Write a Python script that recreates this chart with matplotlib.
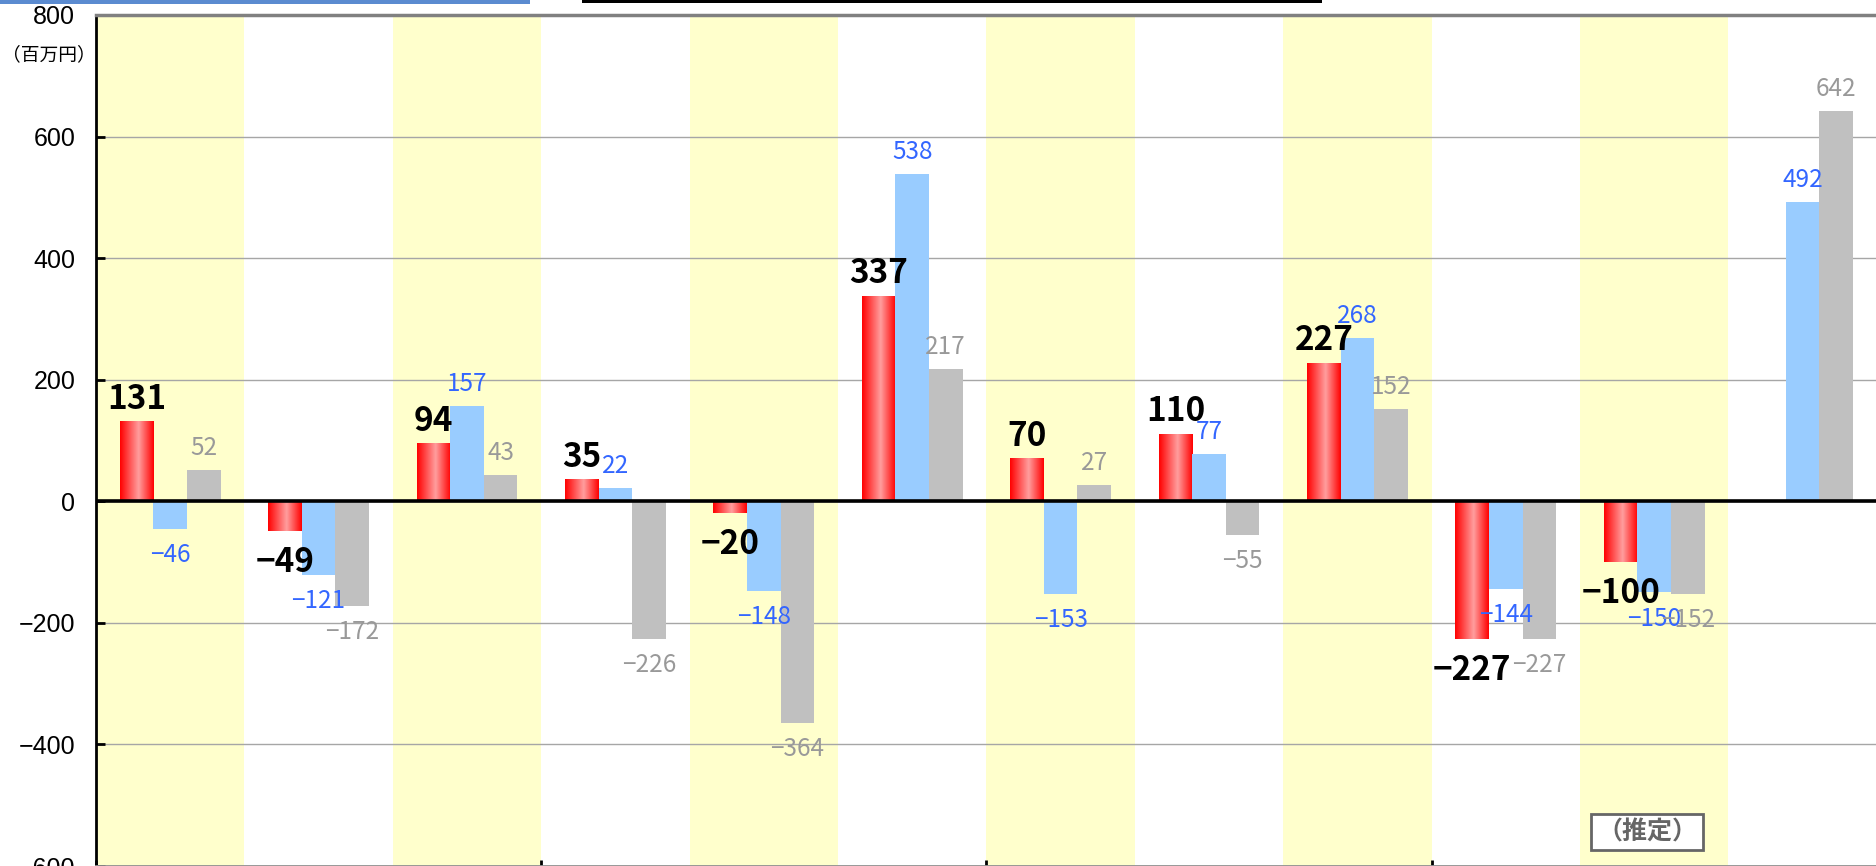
import numpy as np
import matplotlib.pyplot as plt
from matplotlib.colors import LinearSegmentedColormap
from matplotlib.patches import Rectangle

plt.rcParams['font.family'] = ['Noto Sans CJK JP', 'DejaVu Sans']

# values (百万円)
red_vals = [131, -49, 94, 35, -20, 337, 70, 110, 227, -227, -100, np.nan]
blue_vals = [-46, -121, 157, 22, -148, 538, -153, 77, 268, -144, -150, 492]
gray_vals = [52, -172, 43, -226, -364, 217, 27, -55, 152, -227, -152, 642]
y_ticks = [-600, -400, -200, 0, 200, 400, 600, 800]
shaded_groups = [0, 2, 4, 6, 8, 10]
year_ticks = [0, 3, 6, 9]
unit_label = "（百万円）"
note_label = "（推定）"

W, H = 1876, 866
GW = 148.4  # one group in pixels
fig = plt.figure(figsize=(W / 100, H / 100), dpi=100)
ax = fig.add_axes([96 / W, 0.0, 1 - 96 / W, 851 / H])

n = len(blue_vals)
xc = np.arange(n) + 0.5
bw = 0.226

# yellow bands behind every other group
for g in shaded_groups:
    ax.axvspan(g, g + 1, color='#FFFFCC', lw=0, zorder=0)

red_cmap = LinearSegmentedColormap.from_list(
    'redbar', [(0, '#FF0000'), (0.55, '#FF9E9E'), (1, '#FF0000')])
grad = np.linspace(0, 1, 256).reshape(1, -1)


def fmt(v):
    return f"{int(v)}".replace('-', '\u2212')


def put_label(x, v, color, size, weight, up, down):
    off = up if v >= 0 else -down
    ax.annotate(fmt(v), (x, v), xytext=(0, off), textcoords='offset points',
                ha='center', va='baseline', color=color, fontsize=size,
                fontweight=weight, zorder=6)


for i in range(n):
    rv = red_vals[i]
    if not np.isnan(rv):
        x0 = xc[i] - 1.5 * bw
        ax.imshow(grad, extent=[x0, x0 + bw, 0, rv], cmap=red_cmap,
                  aspect='auto', interpolation='bilinear', zorder=2)
ax.bar(xc, blue_vals, bw, color='#99CCFF', zorder=2)
ax.bar(xc + bw, gray_vals, bw, color='#C0C0C0', zorder=2)

for i in range(n):
    if not np.isnan(red_vals[i]):
        put_label(xc[i] - bw, red_vals[i], 'black', 24, 'bold', 9.4, 29.2)
    put_label(xc[i], blue_vals[i], '#3366FF', 17.5, 'normal', 10.8, 23.8)
    put_label(xc[i] + bw, gray_vals[i], '#999999', 17.5, 'normal', 10.8, 23.8)

ax.axhline(0, color='black', lw=2.6, zorder=4)

ax.set_xlim(0, (W - 96) / GW)
ax.set_ylim(-600, 800)
ax.set_yticks(y_ticks)
ax.set_yticklabels([fmt(t) for t in y_ticks], fontsize=18,
                   family=['Liberation Sans', 'DejaVu Sans'])
ax.set_xticks(year_ticks)
ax.set_xticklabels([])
ax.yaxis.grid(True, color='#A6A6A6', lw=1, zorder=1)
ax.set_axisbelow(True)
ax.tick_params(axis='y', direction='in', length=6.5, width=2, pad=15, color='black')
ax.tick_params(axis='x', direction='in', length=4, width=2, color='black')

ax.spines['right'].set_visible(False)
ax.spines['left'].set_color('black')
ax.spines['left'].set_linewidth(2)
ax.spines['top'].set_color('#808080')
ax.spines['top'].set_linewidth(2.5)
ax.spines['bottom'].set_color('#909090')
ax.spines['bottom'].set_linewidth(2)

fig.text(49 / W, 1 - 55 / H, unit_label, ha='center', va='center', fontsize=13.5)

fig.text(1647 / W, 1 - 832 / H, note_label, ha='center', va='center',
         fontsize=18, fontweight='bold', color='#666666',
         bbox=dict(boxstyle='square,pad=0.25', fc='white', ec='#666666', lw=2))

# stray page elements at the top edge
fig.add_artist(Rectangle((0, 1 - 4 / H), 530 / W, 4 / H, transform=fig.transFigure,
                         color='#5B8BD0', lw=0))
fig.add_artist(Rectangle((582 / W, 1 - 3 / H), 740 / W, 3 / H, transform=fig.transFigure,
                         color='black', lw=0))

fig.savefig('out.png', dpi=100)
